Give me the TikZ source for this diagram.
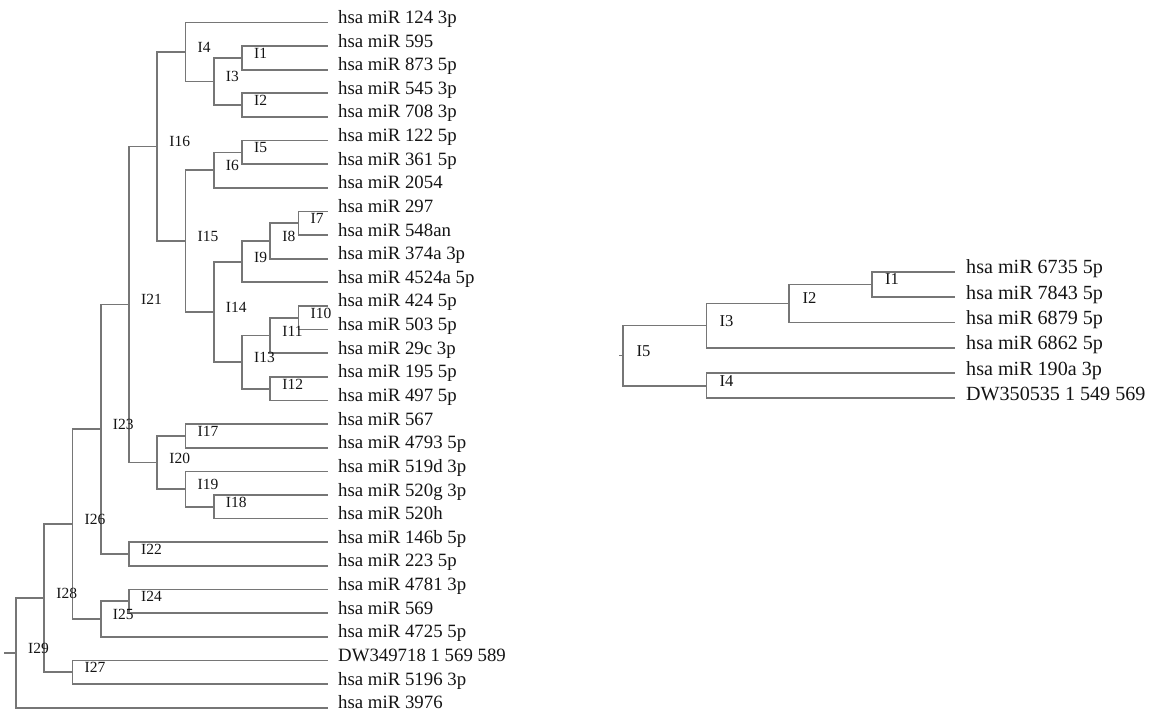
\documentclass[tikz,border=0pt]{standalone}
\usepackage{fontspec}
\setmainfont{Liberation Serif}
\definecolor{linegray}{RGB}{118,118,118}
\definecolor{txt}{RGB}{20,20,20}
\newcommand\brjoin[3]{\draw[br] (#1) |- (#2) (#1) |- (#3);}
\begin{document}
\begin{tikzpicture}[x=1bp,y=-1bp,
  br/.style={draw=linegray, line width=1.7bp},
  leafL/.style={anchor=base west, inner sep=0pt, text=txt, font=\fontsize{18.8bp}{20bp}\selectfont},
  intL/.style={anchor=base west, inner sep=0pt, text=txt, font=\fontsize{15.5bp}{16bp}\selectfont},
  leafR/.style={anchor=base west, inner sep=0pt, text=txt, font=\fontsize{20.1bp}{21bp}\selectfont},
  intR/.style={anchor=base west, inner sep=0pt, text=txt, font=\fontsize{16.6bp}{17bp}\selectfont}]
\useasboundingbox (0,0) rectangle (1150,711);

% ---------------- left tree: leaves ----------------
\foreach \t [count=\i from 0] in {hsa miR 124 3p, hsa miR 595, hsa miR 873 5p, hsa miR 545 3p, hsa miR 708 3p, hsa miR 122 5p, hsa miR 361 5p, hsa miR 2054, hsa miR 297, hsa miR 548an, hsa miR 374a 3p, hsa miR 4524a 5p, hsa miR 424 5p, hsa miR 503 5p, hsa miR 29c 3p, hsa miR 195 5p, hsa miR 497 5p, hsa miR 567, hsa miR 4793 5p, hsa miR 519d 3p, hsa miR 520g 3p, hsa miR 520h, hsa miR 146b 5p, hsa miR 223 5p, hsa miR 4781 3p, hsa miR 569, hsa miR 4725 5p, DW349718 1 569 589, hsa miR 5196 3p, hsa miR 3976}{
  \coordinate (a\i) at (328, {22.4+23.63*\i});
  \node[leafL] (ta\i) at (338, {23.4+23.63*\i}) {\t};
}

% ---------------- left tree: internal nodes ----------------
\coordinate (A1) at (242, 57.845);
\coordinate (A2) at (242, 105.105);
\coordinate (A3) at (213.75, 81.475);
\coordinate (A4) at (185.5, 51.94);
\coordinate (A5) at (242, 152.365);
\coordinate (A6) at (213.75, 170.09);
\coordinate (A7) at (298.5, 223.255);
\coordinate (A8) at (270.25, 240.98);
\coordinate (A9) at (242, 261.655);
\coordinate (A10) at (298.5, 317.775);
\coordinate (A11) at (270.25, 335.50);
\coordinate (A12) at (270.25, 388.665);
\coordinate (A13) at (242, 362.08);
\coordinate (A14) at (213.75, 311.87);
\coordinate (A15) at (185.5, 240.98);
\coordinate (A16) at (157.25, 146.46);
\coordinate (A17) at (185.5, 435.925);
\coordinate (A18) at (213.75, 506.815);
\coordinate (A19) at (185.5, 489.09);
\coordinate (A20) at (157.25, 462.51);
\coordinate (A21) at (129, 304.485);
\coordinate (A22) at (129, 554.075);
\coordinate (A23) at (100.75, 429.28);
\coordinate (A24) at (129, 601.335);
\coordinate (A25) at (100.75, 619.06);
\coordinate (A26) at (72.5, 524.17);
\coordinate (A27) at (72.5, 672.225);
\coordinate (A28) at (44.25, 598.20);
\coordinate (A29) at (16, 652.935);
\coordinate (A0) at (4.3, 652.935);

\brjoin{A1}{a1}{a2}
\brjoin{A2}{a3}{a4}
\brjoin{A3}{A1}{A2}
\brjoin{A4}{a0}{A3}
\brjoin{A5}{a5}{a6}
\brjoin{A6}{A5}{a7}
\brjoin{A7}{a8}{a9}
\brjoin{A8}{A7}{a10}
\brjoin{A9}{A8}{a11}
\brjoin{A10}{a12}{a13}
\brjoin{A11}{A10}{a14}
\brjoin{A12}{a15}{a16}
\brjoin{A13}{A11}{A12}
\brjoin{A14}{A9}{A13}
\brjoin{A15}{A6}{A14}
\brjoin{A16}{A4}{A15}
\brjoin{A17}{a17}{a18}
\brjoin{A18}{a20}{a21}
\brjoin{A19}{a19}{A18}
\brjoin{A20}{A17}{A19}
\brjoin{A21}{A16}{A20}
\brjoin{A22}{a22}{a23}
\brjoin{A23}{A21}{A22}
\brjoin{A24}{a24}{a25}
\brjoin{A25}{A24}{a26}
\brjoin{A26}{A23}{A25}
\brjoin{A27}{a27}{a28}
\brjoin{A28}{A26}{A27}
\brjoin{A29}{A28}{a29}
\draw[br] (A0) -- (A29);

\foreach \k in {1,...,29}{
  \node[intL] (tA\k) at ([shift={(12,0.5)}]A\k) {I\k};
}

% ---------------- right tree ----------------
\foreach \t [count=\i from 0] in {hsa miR 6735 5p, hsa miR 7843 5p, hsa miR 6879 5p, hsa miR 6862 5p, hsa miR 190a 3p, DW350535 1 549 569}{
  \coordinate (b\i) at (955, {271.8+25.3*\i});
  \node[leafR] (tb\i) at (966, {273.8+25.3*\i}) {\t};
}
\coordinate (B1) at (872, 284.45);
\coordinate (B2) at (789.3, 303.43);
\coordinate (B3) at (706.5, 325.56);
\coordinate (B4) at (706.5, 385.65);
\coordinate (B5) at (623.3, 355.6);
\coordinate (B0) at (619, 355.6);

\brjoin{B1}{b0}{b1}
\brjoin{B2}{B1}{b2}
\brjoin{B3}{B2}{b3}
\brjoin{B4}{b4}{b5}
\brjoin{B5}{B3}{B4}
\draw[br] (B0) -- (B5);

\foreach \k in {1,...,5}{
  \node[intR] (tB\k) at ([shift={(13,0.5)}]B\k) {I\k};
}
\end{tikzpicture}
\end{document}
